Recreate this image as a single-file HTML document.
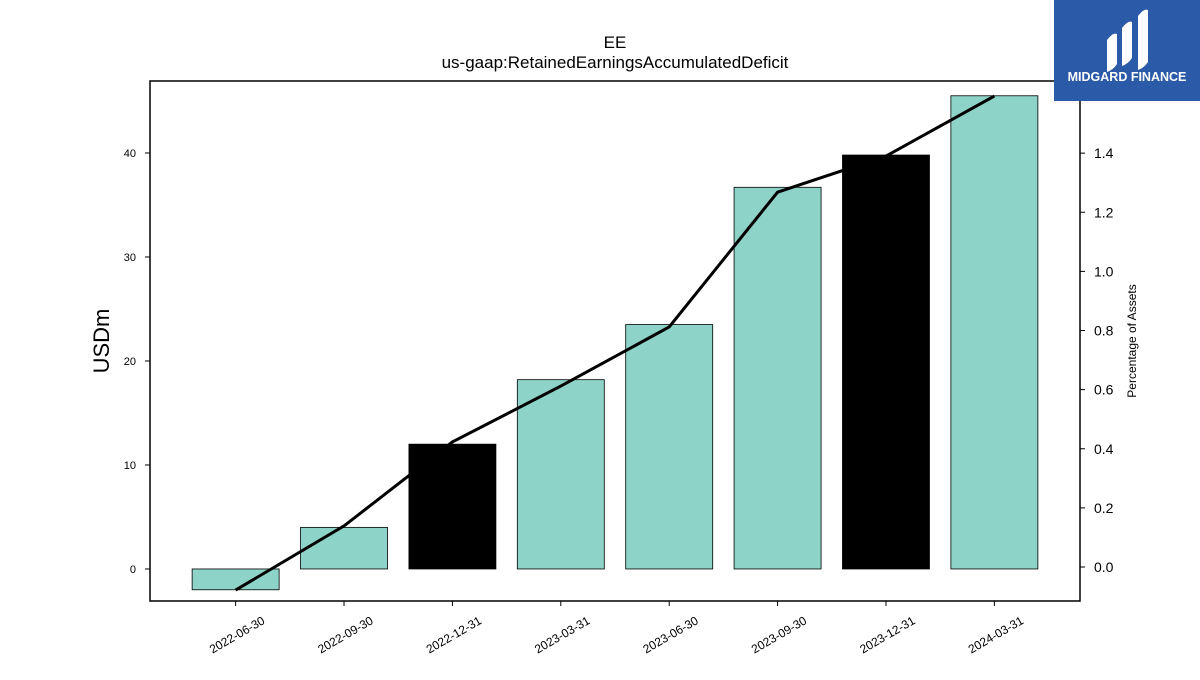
<!DOCTYPE html>
<html><head><meta charset="utf-8"><style>
body{margin:0;background:#fff;width:1200px;height:675px;overflow:hidden;font-family:"Liberation Sans","DejaVu Sans",sans-serif}
</style></head><body>
<svg id="c" width="1200" height="675" xmlns="http://www.w3.org/2000/svg">
<text x="615" y="48" font-size="17" text-anchor="middle">EE</text>
<text x="615" y="68" font-size="17" text-anchor="middle">us-gaap:RetainedEarningsAccumulatedDeficit</text>
<g id="bars"></g><g id="line"></g><g id="axes"></g>
<rect x="150" y="81" width="930" height="520" fill="none" stroke="#000" stroke-width="1.5"/>
<text transform="translate(109,341) rotate(-90)" font-size="22" text-anchor="middle">USDm</text>
<text transform="translate(1136,341) rotate(-90)" font-size="12" text-anchor="middle">Percentage of Assets</text>
<g>
<rect x="1054" y="0" width="146" height="101" fill="#2b5aa8"/>
<path d="M1107 40 q6-8 10-6 v30 q-4 6-10 8z M1122 28 q6-8 10-6 v36 q-4 6-10 8z M1138 16 q6-8 10-6 v52 q-4 6-10 8z" fill="#fff"/>
<text x="1127" y="81" font-size="12.5" font-weight="bold" fill="#fff" text-anchor="middle">MIDGARD FINANCE</text>
</g>
</svg>
<script>
const categories=["2022-06-30","2022-09-30","2022-12-31","2023-03-31","2023-06-30","2023-09-30","2023-12-31","2024-03-31"];
const barValues=[-2.0,4.0,12.0,18.2,23.5,36.7,39.8,45.5];
const barBlack=[false,false,true,false,false,false,true,false];
const pctValues=[-0.078,0.139,0.423,0.612,0.812,1.268,1.39,1.593];
const leftTicks=[0,10,20,30,40];
const rightTicks=[0.0,0.2,0.4,0.6,0.8,1.0,1.2,1.4];
const L=150,R=1080,T=81,B=601;
const xS=i=>L+(i+0.79)/8.58*(R-L);
const yL=v=>B-(v+3.08)/(46.92+3.08)*(B-T);
const yR=v=>B-(v+0.115)/(1.644+0.115)*(B-T);
const NS="http://www.w3.org/2000/svg";
function mk(tag,attrs,parent){const e=document.createElementNS(NS,tag);for(const k in attrs)e.setAttribute(k,attrs[k]);parent.appendChild(e);return e;}
const gb=document.getElementById('bars'),gl=document.getElementById('line'),ga=document.getElementById('axes');
const bw=87;
barValues.forEach((v,i)=>{
 const y0=yL(0),y1=yL(v);
 const r=mk('rect',{x:xS(i)-bw/2,y:Math.min(y0,y1),width:bw,height:Math.abs(y1-y0),fill:barBlack[i]?'#000':'#8dd3c7',stroke:'#000','stroke-width':0.8},gb);
 
 
});
const pl=mk('polyline',{points:pctValues.map((v,i)=>xS(i)+','+yR(v)).join(' '),fill:'none',stroke:'#000','stroke-width':3},gl);


leftTicks.forEach(t=>{
 const y=yL(t);
 mk('line',{x1:L-5,x2:L,y1:y,y2:y,stroke:'#000'},ga);
 const tx=mk('text',{x:L-14,y:y+4,'font-size':11,'text-anchor':'end'},ga);tx.textContent=t;
 
 
});
rightTicks.forEach(t=>{
 const y=yR(t);
 mk('line',{x1:R,x2:R+5,y1:y,y2:y,stroke:'#000'},ga);
 const tx=mk('text',{x:R+14,y:y+5,'font-size':14},ga);tx.textContent=t.toFixed(1);
 
 
});
categories.forEach((c,i)=>{
 const x=xS(i);
 mk('line',{x1:x,x2:x,y1:B,y2:B+5,stroke:'#000'},ga);
 const tx=mk('text',{transform:`translate(${x+30},${B+22}) rotate(-30)`,'font-size':12,'text-anchor':'end'},ga);tx.textContent=c;
 
 
});
</script>
</body></html>
